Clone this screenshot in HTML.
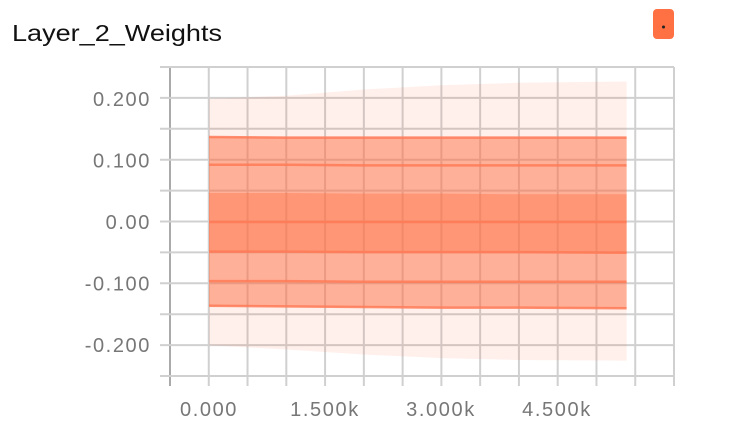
<!DOCTYPE html>
<html><head><meta charset="utf-8"><style>
html,body{margin:0;padding:0;background:#fff;width:736px;height:438px;overflow:hidden;font-family:"Liberation Sans",sans-serif}
</style></head><body>
<svg width="736" height="438">
<text x="12" y="41" font-size="23" fill="#111" textLength="210" lengthAdjust="spacingAndGlyphs">Layer_2_Weights</text>
<rect x="653" y="9" width="21" height="30" rx="4" fill="#ff7043"/>
<circle cx="663.5" cy="27" r="1.5" fill="#222"/>
<g id="grid"></g>
<g id="bands"></g>
<g id="axes"></g>
</svg>
<script>
const steps=[0,1000,2000,3000,4000,5400];
const pMax=[0.200,0.205,0.215,0.222,0.226,0.228];
const p93=[0.138,0.137,0.137,0.137,0.137,0.137];
const p84=[0.093,0.093,0.092,0.092,0.092,0.092];
const p69=[0.047,0.047,0.046,0.046,0.045,0.045];
const p50=[0.000,0.000,0.000,0.000,0.000,0.000];
const p31=[-0.048,-0.048,-0.049,-0.049,-0.049,-0.050];
const p16=[-0.096,-0.096,-0.097,-0.097,-0.097,-0.097];
const p7=[-0.136,-0.137,-0.138,-0.139,-0.139,-0.140];
const pMin=[-0.200,-0.207,-0.215,-0.221,-0.224,-0.225];
const xTicks=[0,1500,3000,4500];
const xTickLabels=["0.000","1.500k","3.000k","4.500k"];
const yTicks=[0.2,0.1,0,-0.1,-0.2];
const yTickLabels=["0.200","0.100","0.00","-0.100","-0.200"];
const NS="http://www.w3.org/2000/svg";
const X=s=>209+s*(116/1500);
const Y=v=>222-v*616;
function mk(t,a,p){const e=document.createElementNS(NS,t);for(const k in a)e.setAttribute(k,a[k]);p.appendChild(e);return e;}
const grid=document.getElementById('grid'),bands=document.getElementById('bands'),axes=document.getElementById('axes');
for(let i=0;i<=13;i++){const x=170+i*(504/13);
 const l=mk('line',{x1:x,x2:x,y1:67,y2:386,stroke:i==0?'#aaa':'#d0d0d0','stroke-width':2},grid);
 }
for(let i=0;i<=10;i++){const y=67+i*30.9;
 const l=mk('line',{x1:160,x2:674,y1:y,y2:y,stroke:'#d0d0d0','stroke-width':2},grid);
 }
function band(a,b,fill,name){
 let d='M'+steps.map((s,i)=>X(s)+','+Y(a[i])).join('L');
 d+='L'+steps.map((s,i)=>X(s)+','+Y(b[i])).reverse().join('L')+'Z';
 const p=mk('path',{d:d,fill:fill},bands);}
function line(a,name){
 const p=mk('path',{d:'M'+steps.map((s,i)=>X(s)+','+Y(a[i])).join('L'),fill:'none',stroke:'#ff7a57','stroke-width':2.5,'stroke-opacity':0.85},bands);
 }
band(pMax,pMin,'rgba(255,112,67,0.1)','band-min-max');
band(p93,p7,'rgba(255,112,67,0.5)','band-7-93');
band(p69,p31,'rgba(255,112,67,0.4)','band-31-69');
line(p93,'line-p93');line(p84,'line-p84');line(p50,'line-p50');line(p31,'line-p31');line(p16,'line-p16');line(p7,'line-p7');
xTicks.forEach((t,i)=>{const e=mk('text',{x:X(t),y:416,'font-size':20,fill:'#777','text-anchor':'middle','letter-spacing':1.6},axes);e.textContent=xTickLabels[i];
 });
yTicks.forEach((t,i)=>{const e=mk('text',{x:151,y:Y(t)+7,'font-size':20,fill:'#777','text-anchor':'end','letter-spacing':1.6},axes);e.textContent=yTickLabels[i];
 });
</script>
</body></html>
